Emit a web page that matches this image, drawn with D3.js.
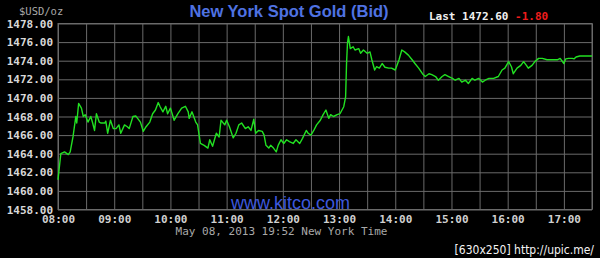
<!DOCTYPE html>
<html>
<head>
<meta charset="utf-8">
<script src="https://cdn.jsdelivr.net/npm/d3@7"></script>
<style>
  html, body { margin: 0; padding: 0; background: #000; }
  svg { display: block; }
  .mono { font-family: "DejaVu Sans Mono", monospace; }
</style>
</head>
<body>
<svg id="chart"></svg>
<script>
'use strict';

// minutes after 08:00 (New York time)
const minutes = [0,3,7,11,13,16,19,20,22,25,27,29,32,35,37,39,41,44,46,50,51,53,56,59,62,65,67,71,74,76,80,83,85,88,91,94,98,101,104,107,109,112,115,117,120,124,128,132,136,139,140,143,147,149,152,156,160,162,165,169,172,174,178,180,183,187,190,
  193,196,200,203,206,209,211,214,218,220,222,225,227,230,233,235,238,241,244,247,251,254,258,261,265,267,270,273,276,280,283,286,289,291,294,298,301,305,307,308,309,310,312,315,317,321,323,326,330,333,335,338,340,343,346,349,353,356,360,364,367,370,
  374,378,381,385,389,392,396,399,403,406,410,413,417,421,424,428,431,435,438,442,445,449,453,456,460,465,470,474,477,481,484,486,490,494,497,500,502,506,509,513,517,522,527,533,536,540,542,545,549,551,553,557,565,570];

// bid price, $USD/oz
const prices = [1461.2,1464.0,1464.2,1463.9,1464.2,1465.8,1468.0,1467.3,1469.4,1468.9,1468.0,1468.2,1467.4,1468.0,1467.3,1466.5,1468.3,1467.4,1467.3,1467.3,1467.5,1466.2,1467.6,1466.7,1466.7,1467.1,1466.2,1467.1,1466.9,1466.7,1468.0,1468.05,1467.8,1467.4,1466.4,1466.9,1467.4,1468.3,1468.7,1469.5,1469.05,1468.5,1469.1,1468.3,1468.9,1467.6,1468.3,1468.9,1469.1,1468.5,1467.8,1468.5,1467.4,1467.1,1465.1,1464.9,1464.6,1465.5,1464.8,1466.2,1465.8,1467.6,1467.1,1467.6,1466.9,1465.7,1466.2,
  1467.1,1467.3,1466.7,1466.9,1466.5,1467.7,1466.2,1466.5,1466.4,1466.0,1464.9,1464.6,1464.9,1464.6,1464.2,1464.9,1465.5,1465.1,1465.5,1465.3,1465.1,1465.5,1465.1,1465.65,1466.5,1466.2,1466.0,1466.5,1467.1,1467.6,1468.2,1468.7,1467.8,1468.2,1468.0,1468.2,1468.3,1469.05,1470.1,1473.7,1475.9,1476.6,1475.3,1475.5,1475.15,1475.3,1474.8,1475.15,1474.8,1474.95,1474.1,1473.0,1473.35,1473.2,1473.7,1473.3,1473.2,1473.2,1473.0,1474.1,1475.15,1474.95,
  1474.6,1474.1,1473.7,1473.2,1472.6,1472.3,1472.6,1472.5,1472.3,1471.9,1472.3,1472.5,1472.3,1472.1,1471.9,1472.1,1471.7,1471.9,1471.55,1472.1,1471.9,1472.1,1471.7,1471.9,1472.1,1472.1,1472.3,1473.0,1473.2,1473.9,1473.35,1472.6,1473.2,1473.5,1473.9,1473.5,1473.2,1473.5,1473.9,1474.25,1474.25,1474.1,1474.1,1474.1,1474.25,1473.7,1474.2,1474.25,1474.25,1474.2,1474.4,1474.5,1474.5,1474.5];

const yTicks = [1458,1460,1462,1464,1466,1468,1470,1472,1474,1476,1478];
const xGrid = [0,30,60,90,120,150,180,210,240,270,300,330,360,390,420,450,480,510,540,570];
const xTickLabels = ['08:00','09:00','10:00','11:00','12:00','13:00','14:00','15:00','16:00','17:00'];

const W = 600, H = 258;
const plot = { left: 58, right: 592, top: 23.5, bottom: 209.5 };

const svg = d3.select('#chart').attr('width', W).attr('height', H);
svg.append('rect').attr('width', W).attr('height', H).attr('fill', '#000');

const x = d3.scaleLinear().domain([0, 570]).range([plot.left, plot.right]);
const y = d3.scaleLinear().domain([1458, 1478]).range([plot.bottom, plot.top]);

const gridColor = '#6a6a6a';

// horizontal grid + y labels
const yAxis = svg.append('g')
  .attr('transform', `translate(${plot.left},0)`)
  .call(d3.axisLeft(y).tickValues(yTicks).tickSize(-(plot.right - plot.left)).tickPadding(5)
    .tickFormat(d => d.toFixed(2)));
yAxis.select('.domain').remove();
yAxis.selectAll('line').attr('stroke', gridColor);
yAxis.selectAll('text')
  .attr('class', 'mono')
  .attr('font-size', 11).attr('font-weight', 'bold')
  .attr('fill', '#d8d8d8');

// vertical grid + x labels
const xAxis = svg.append('g')
  .attr('transform', `translate(0,${plot.bottom})`)
  .call(d3.axisBottom(x).tickValues(xGrid).tickSize(-(plot.bottom - plot.top)).tickPadding(6)
    .tickFormat(d => d % 60 === 0 ? xTickLabels[d / 60] : ''));
xAxis.select('.domain').remove();
xAxis.selectAll('line').attr('stroke', gridColor);
xAxis.selectAll('text')
  .attr('class', 'mono')
  .attr('font-size', 11).attr('font-weight', 'bold')
  .attr('fill', '#d0d0d0');

// plot frame
svg.append('rect')
  .attr('x', plot.left).attr('y', plot.top)
  .attr('width', plot.right - plot.left).attr('height', plot.bottom - plot.top)
  .attr('fill', 'none').attr('stroke', gridColor);

// price line
const line = d3.line()
  .x((d, i) => x(minutes[i]))
  .y(d => y(d));

svg.append('path')
  .attr('d', line(prices))
  .attr('fill', 'none')
  .attr('stroke', '#22e022')
  .attr('stroke-width', 1.4)
  .attr('stroke-linejoin', 'round');

// texts
svg.append('text')
  .attr('x', 19).attr('y', 14.5)
  .attr('class', 'mono').attr('font-size', 10.5)
  .attr('fill', '#a8a8a8')
  .text('$USD/oz');

svg.append('text')
  .attr('x', 289).attr('y', 17)
  .attr('text-anchor', 'middle')
  .attr('font-family', '"Liberation Sans", Arial, sans-serif')
  .attr('font-size', 16.5).attr('font-weight', 'bold')
  .attr('fill', '#4f72e2')
  .text('New York Spot Gold (Bid)');

const last = svg.append('text')
  .attr('x', 429).attr('y', 19.5)
  .attr('class', 'mono').attr('font-size', 11).attr('font-weight', 'bold');
last.append('tspan').attr('fill', '#f0f0f0').text('Last 1472.60 ');
last.append('tspan').attr('fill', '#ee1c1c').text('-1.80');

svg.append('text')
  .attr('x', 290.5).attr('y', 209)
  .attr('text-anchor', 'middle')
  .attr('font-family', '"Liberation Sans", Arial, sans-serif')
  .attr('font-size', 18)
  .attr('fill', '#3d58dc')
  .text('www.kitco.com');

svg.append('text')
  .attr('x', 281.5).attr('y', 235)
  .attr('text-anchor', 'middle')
  .attr('class', 'mono').attr('font-size', 11)
  .attr('fill', '#a8a8a8')
  .text('May 08, 2013 19:52 New York Time');

svg.append('text')
  .attr('x', 594).attr('y', 253.5)
  .attr('text-anchor', 'end')
  .attr('font-family', '"DejaVu Sans Condensed", "DejaVu Sans", sans-serif')
  .attr('font-size', 12)
  .attr('fill', '#f4f4f4')
  .text('[630x250] http://upic.me/');
</script>
</body>
</html>
